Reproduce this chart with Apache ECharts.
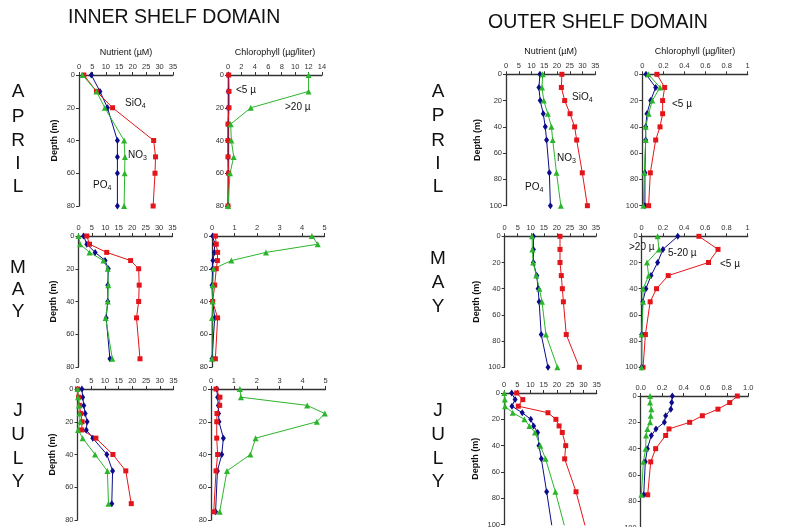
<!DOCTYPE html>
<html>
<head>
<meta charset="utf-8">
<script src="https://cdn.jsdelivr.net/npm/echarts@6/dist/echarts.min.js"></script>
<style>
html,body{margin:0;padding:0;background:#fff;}
#main{width:786px;height:527px;}
</style>
</head>
<body>
<div id="main"></div>
<script>
// inner shelf - april
var inAprDepth = [0, 10, 20, 40, 50, 60, 80];
var inAprPO4 = [4.6, 7.8, 10.6, 14.3, 14.3, 14.3, 14.3];
var inAprNO3 = [1.3, 6.5, 9.6, 16.8, 17.1, 17, 16.8];
var inAprSiO4 = [1.8, 6.5, 12.5, 27.8, 28.5, 28.3, 27.6];
var inAprChlDepth = [0, 10, 20, 30, 40, 50, 60, 80];
var inAprLt5 = [0.1, 0.15, 0.15, 0, 0, 0, 0.1, 0];
var inApr520 = [0.05, 0.05, 0.05, 0.02, 0.02, 0.02, 0.02, 0];
var inAprGt20 = [12, 12, 3.4, 0.4, 0.5, 0.85, 0.3, 0];
// inner shelf - may
var inMayDepth = [0, 5, 10, 15, 20, 30, 40, 50, 75];
var inMayPO4 = [1.9, 3.1, 6.2, 9.9, 11.1, 10.9, 10.9, 10.3, 11.7];
var inMayNO3 = [0, 0.6, 4.1, 9.3, 10.9, 11.1, 10.9, 10.1, 12.6];
var inMaySiO4 = [3.1, 4.1, 10.5, 19.4, 22.4, 22.6, 22.4, 21.6, 22.9];
var inMayLt5 = [0.15, 0.19, 0.25, 0.24, 0.19, 0.12, 0.03, 0.25, 0.15];
var inMay520 = [0.03, 0.12, 0.1, 0.04, 0.03, 0, 0.03, 0.12, 0];
var inMayGt20 = [4.44, 4.7, 2.4, 0.86, 0.07, 0.03, 0.03, 0, 0];
// inner shelf - july
var inJulDepth = [0, 5, 10, 15, 20, 25, 30, 40, 50, 70];
var inJulPO4 = [1.6, 1.9, 2.3, 2.8, 3.5, 3.2, 5.6, 10.7, 12.8, 12.5];
var inJulNO3 = [0, 0.2, 0.5, 0.7, 1, 0.2, 1.9, 6.4, 10.9, 11.3];
var inJulSiO4 = [0, 0.4, 0.7, 1.2, 1.7, 1.5, 6.7, 12.9, 17.6, 19.6];
var inJulChlDepth = [0, 5, 10, 15, 20, 30, 40, 50, 75];
var inJulLt5 = [0.22, 0.39, 0.38, 0.26, 0.25, 0.25, 0.29, 0.22, 0.12];
var inJul520 = [0.25, 0.29, 0.32, 0.33, 0.35, 0.54, 0.47, 0.28, 0.2];
var inJulGt20 = [1.26, 1.31, 4.2, 4.97, 4.62, 1.95, 1.72, 0.7, 0.38];
// outer shelf - april
var outAprDepth = [0, 10, 20, 30, 40, 50, 75, 100];
var outAprPO4 = [13.3, 12.9, 13.4, 14.6, 15.4, 15.9, 17, 17.4];
var outAprNO3 = [14.4, 14.1, 14.8, 16.4, 17.8, 18.3, 19.8, 21.5];
var outAprSiO4 = [21.9, 21.7, 23, 25.1, 26.9, 27.7, 29.9, 31.9];
var outAprLt5 = [0.139, 0.212, 0.193, 0.193, 0.168, 0.127, 0.076, 0.06];
var outApr520 = [0.035, 0.127, 0.079, 0.044, 0.032, 0.032, 0.025, 0.025];
var outAprGt20 = [0.057, 0.168, 0.095, 0.06, 0.032, 0.032, 0.019, 0.01];
// outer shelf - may
var outMayDepth = [0, 10, 20, 30, 40, 50, 75, 100];
var outMayPO4 = [11, 11, 11, 12.3, 12.8, 13.2, 14, 16.6];
var outMayNO3 = [10.5, 10.6, 10.9, 12.1, 13.3, 14.3, 15.8, 20.2];
var outMaySiO4 = [21.2, 21.2, 21.2, 21.7, 22.1, 22.5, 23.6, 28.6];
var outMayLt5 = [0.54, 0.72, 0.63, 0.25, 0.14, 0.08, 0.035, 0.013];
var outMay520 = [0.34, 0.2, 0.15, 0.088, 0.04, 0.01, 0, 0];
var outMayGt20 = [0.15, 0.163, 0.05, 0.066, 0.013, 0.013, 0, 0];
// outer shelf - july (last point lies below the picture)
var outJulDepth = [0, 5, 10, 15, 20, 25, 30, 40, 50, 75, 125];
var outJulPO4 = [2.9, 4.2, 3.0, 6.9, 10.1, 11.2, 12.7, 13.2, 14.1, 16.1, 19.9];
var outJulNO3 = [0.1, 0.3, 0.4, 3.3, 7.7, 9.6, 11.7, 13.7, 15.7, 19.4, 26];
var outJulSiO4 = [4.8, 7.1, 5.4, 16.6, 19.6, 20.8, 22, 23.3, 22.9, 27.2, 33.8];
var outJulChlDepth = [0, 5, 10, 15, 20, 25, 30, 40, 50, 75];
var outJulLt5 = [0.898, 0.827, 0.718, 0.573, 0.455, 0.263, 0.232, 0.139, 0.093, 0.065];
var outJul520 = [0.294, 0.288, 0.28, 0.232, 0.22, 0.142, 0.099, 0.062, 0.043, 0.028];
var outJulGt20 = [0.087, 0.087, 0.099, 0.093, 0.087, 0.062, 0.05, 0.046, 0.025, 0.006];

var RED = '#e3151a', GREEN = '#2cb52c', NAVY = '#0c0c8a';
var FONT = '"Liberation Sans", Arial, sans-serif';
var styles = {
	po4: {color: NAVY, symbol: 'diamond', symbolSize: [5, 7]},
	no3: {color: GREEN, symbol: 'triangle', symbolSize: 6},
	sio4: {color: RED, symbol: 'rect', symbolSize: 5}
};
styles.c520 = styles.po4;
styles.gt20 = styles.no3;
styles.lt5 = styles.sio4;

var grids = [], xAxes = [], yAxes = [], series = [];

function pairs(vals, depths){
	return vals.map(function(v, i){ return [v, depths[i]]; });
}

function panel(box, xMax, xStep, yMax, cfg){
	var i = grids.length;
	var axisLine = {show: true, onZero: false, lineStyle: {color: '#333', width: 1.3}};
	var lbl = {color: '#333', fontSize: 7.5, fontFamily: FONT, margin: 4};
	grids.push({left: box[0], top: box[1], width: box[2], height: box[3], outerBoundsMode: 'none', containLabel: false});
	xAxes.push({
		gridIndex: i, type: 'value', position: 'top', min: 0, max: xMax, interval: xStep,
		name: cfg.xName || '', nameLocation: 'middle', nameGap: 18,
		nameTextStyle: {fontSize: 9, fontFamily: FONT, color: '#111'},
		axisLine: axisLine, axisTick: {length: 3, lineStyle: {color: '#333'}},
		axisLabel: cfg.fmt ? Object.assign({formatter: cfg.fmt}, lbl) : lbl,
		splitLine: {show: false}
	});
	yAxes.push({
		gridIndex: i, type: 'value', inverse: true, min: 0, max: yMax, interval: 20,
		name: cfg.yName || '', nameLocation: 'middle', nameGap: cfg.yGap || 20,
		nameTextStyle: {fontSize: 9, fontWeight: 'bold', fontFamily: FONT, color: '#111'},
		axisLine: axisLine, axisTick: {length: 3, lineStyle: {color: '#333'}},
		axisLabel: lbl, splitLine: {show: false}
	});
	cfg.lines.forEach(function(l){
		var s = styles[l[0]];
		series.push({
			type: 'line', xAxisIndex: i, yAxisIndex: i, data: pairs(l[1], l[2]),
			symbol: s.symbol, symbolSize: s.symbolSize, clip: true,
			itemStyle: {color: s.color}, lineStyle: {color: s.color, width: 1}
		});
	});
}

// inner shelf panels
panel([79, 75, 94, 131], 35, 5, 80, {xName: 'Nutrient (µM)', yName: 'Depth (m)',
	lines: [['po4', inAprPO4, inAprDepth], ['sio4', inAprSiO4, inAprDepth], ['no3', inAprNO3, inAprDepth]]});
panel([228, 75, 94, 131], 14, 2, 80, {xName: 'Chlorophyll (µg/liter)',
	lines: [['c520', inApr520, inAprChlDepth], ['lt5', inAprLt5, inAprChlDepth], ['gt20', inAprGt20, inAprChlDepth]]});
panel([78.5, 236, 94, 131], 35, 5, 80, {yName: 'Depth (m)',
	lines: [['po4', inMayPO4, inMayDepth], ['sio4', inMaySiO4, inMayDepth], ['no3', inMayNO3, inMayDepth]]});
panel([212, 236, 112.5, 131], 5, 1, 80, {
	lines: [['c520', inMay520, inMayDepth], ['lt5', inMayLt5, inMayDepth], ['gt20', inMayGt20, inMayDepth]]});
panel([77.5, 389, 96, 131], 35, 5, 80, {yName: 'Depth (m)',
	lines: [['po4', inJulPO4, inJulDepth], ['sio4', inJulSiO4, inJulDepth], ['no3', inJulNO3, inJulDepth]]});
panel([211, 389, 114.5, 131], 5, 1, 80, {
	lines: [['gt20', inJulGt20, inJulChlDepth], ['c520', inJul520, inJulChlDepth], ['lt5', inJulLt5, inJulChlDepth]]});

// outer shelf panels
panel([506, 74.3, 89.3, 131.4], 35, 5, 100, {xName: 'Nutrient (µM)', yName: 'Depth (m)', yGap: 24,
	lines: [['po4', outAprPO4, outAprDepth], ['sio4', outAprSiO4, outAprDepth], ['no3', outAprNO3, outAprDepth]]});
panel([642.3, 74.3, 105.4, 131.4], 1, 0.2, 100, {xName: 'Chlorophyll (µg/liter)',
	lines: [['c520', outApr520, outAprDepth], ['lt5', outAprLt5, outAprDepth], ['gt20', outAprGt20, outAprDepth]]});
panel([504.7, 236.3, 91.3, 131], 35, 5, 100, {yName: 'Depth (m)', yGap: 24,
	lines: [['po4', outMayPO4, outMayDepth], ['sio4', outMaySiO4, outMayDepth], ['no3', outMayNO3, outMayDepth]]});
panel([641.7, 236.3, 106, 131], 1, 0.2, 100, {
	lines: [['lt5', outMayLt5, outMayDepth], ['c520', outMay520, outMayDepth], ['gt20', outMayGt20, outMayDepth]]});
panel([504, 393, 92.7, 131.7], 35, 5, 100, {yName: 'Depth (m)', yGap: 24,
	lines: [['po4', outJulPO4, outJulDepth], ['sio4', outJulSiO4, outJulDepth], ['no3', outJulNO3, outJulDepth]]});
panel([640.7, 396, 107.6, 131.7], 1, 0.2, 100, {fmt: function(v){ return v.toFixed(1); },
	lines: [['lt5', outJulLt5, outJulChlDepth], ['c520', outJul520, outJulChlDepth], ['gt20', outJulGt20, outJulChlDepth]]});

// text labels
var ctx = document.createElement('canvas').getContext('2d');
var graphics = [];
function txt(x, y, s, size, align){
	graphics.push({type: 'text', x: x, y: y, silent: true,
		style: {text: s, font: size + 'px ' + FONT, fill: '#111', align: align || 'left', verticalAlign: 'middle'}});
}
function chem(x, y, main, sub){
	var f = '10px ' + FONT;
	ctx.font = f;
	var w = ctx.measureText(main).width;
	txt(x, y, main, 10);
	txt(x + w, y + 3, sub, 7);
}
function word(x, ys, letters){
	ys.forEach(function(y, i){ txt(x, y, letters[i], 19, 'center'); });
}

txt(68, 18, 'INNER SHELF DOMAIN', 19.5);
txt(488, 23, 'OUTER SHELF DOMAIN', 19.5);
word(18, [92, 117, 141, 164, 187], 'APRIL');
word(18, [268, 290, 312], 'MAY');
word(18, [411, 435, 459, 482], 'JULY');
word(438, [92, 116, 141, 164, 187], 'APRIL');
word(438, [259, 283, 307], 'MAY');
word(438, [411, 435, 459, 482], 'JULY');

chem(125, 103, 'SiO', '4');
chem(128, 155, 'NO', '3');
chem(93, 185, 'PO', '4');
txt(236, 90, '<5 µ', 10);
txt(285, 107, '>20 µ', 10);
chem(572, 97, 'SiO', '4');
chem(557, 158, 'NO', '3');
chem(525, 187, 'PO', '4');
txt(672, 104, '<5 µ', 10);
txt(629, 247, '>20 µ', 10);
txt(668, 253, '5-20 µ', 10);
txt(720, 264, '<5 µ', 10);

var myChart = echarts.init(document.getElementById('main'));
myChart.setOption({
	animation: false,
	backgroundColor: '#fff',
	grid: grids,
	xAxis: xAxes,
	yAxis: yAxes,
	series: series,
	graphic: graphics
});
</script>
</body>
</html>
